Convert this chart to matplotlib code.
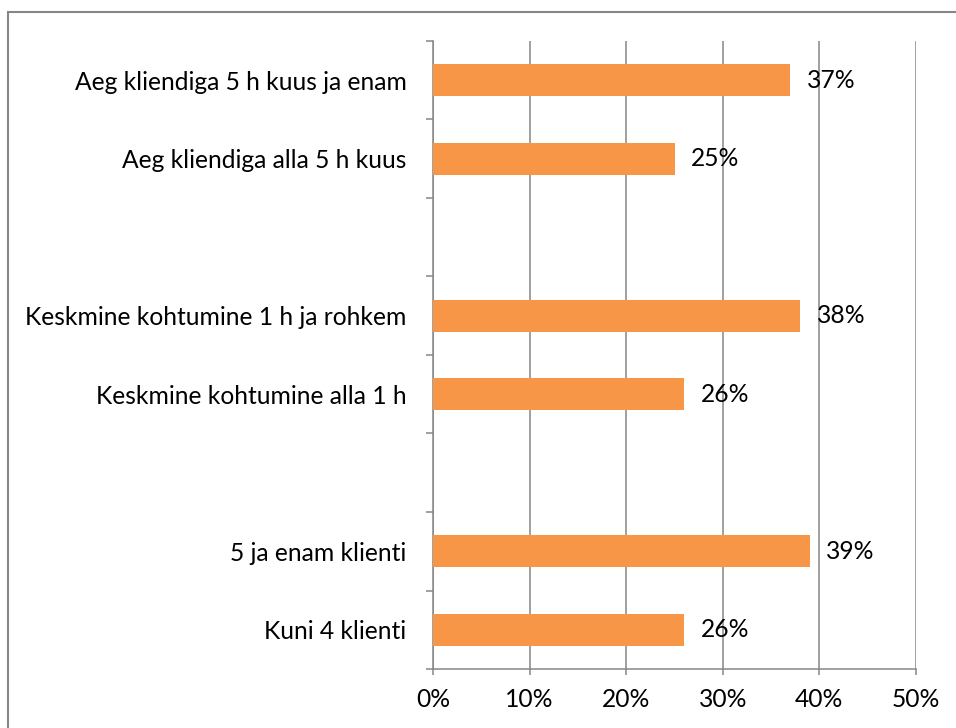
import numpy as np
import matplotlib
matplotlib.use('Agg')
from matplotlib import pyplot as plt
from matplotlib.patches import Rectangle

categories = ['Aeg kliendiga 5 h kuus ja enam', 'Aeg kliendiga alla 5 h kuus', '',
              'Keskmine kohtumine 1 h ja rohkem', 'Keskmine kohtumine alla 1 h', '',
              '5 ja enam klienti', 'Kuni 4 klienti']
values = [37, 25, None, 38, 26, None, 39, 26]
xticks = [0, 10, 20, 30, 40, 50]

plt.rcParams['font.family'] = ['Lato', 'DejaVu Sans']
grey = '#868686'
orange = '#F79646'
fs = 17.7

fig = plt.figure(figsize=(9.56, 7.28), dpi=100)
# outer chart border (runs off the right and bottom edges)
fig.patches.append(Rectangle((8 / 956, -0.1), 1.2, 1 - 12 / 728 + 0.1,
                             transform=fig.transFigure, fill=False,
                             edgecolor=grey, linewidth=1.5))
ax = fig.add_axes([433 / 956, 59 / 728, 483 / 956, 628 / 728])

y = np.arange(len(categories))
for yi, v in zip(y, values):
    if v is None:
        continue
    ax.barh(yi, v, height=0.41, color=orange, zorder=3)
    ax.text(v + 1.7, yi, f'{v}%', va='center', ha='left', fontsize=fs, zorder=4)

ax.set_xlim(0, 50)
ax.set_ylim(len(categories) - 0.5, -0.5)
ax.set_xticks(xticks)
ax.set_xticklabels([f'{t}%' for t in xticks], fontsize=fs)
ax.set_yticks(y)
ax.set_yticklabels(categories, fontsize=fs)
ax.set_yticks(np.arange(len(categories) + 1) - 0.5, minor=True)
ax.tick_params(axis='y', which='major', length=0, pad=19)
ax.tick_params(axis='y', which='minor', length=5, width=1.1, color=grey, direction='out')
ax.tick_params(axis='x', length=4.5, width=1.1, color=grey, pad=9)
ax.grid(axis='x', color=grey, linewidth=1.1, zorder=0)
for s in ['top', 'right']:
    ax.spines[s].set_visible(False)
for s in ['left', 'bottom']:
    ax.spines[s].set_color(grey)
    ax.spines[s].set_linewidth(1.1)

fig.savefig('out.png', dpi=100)
